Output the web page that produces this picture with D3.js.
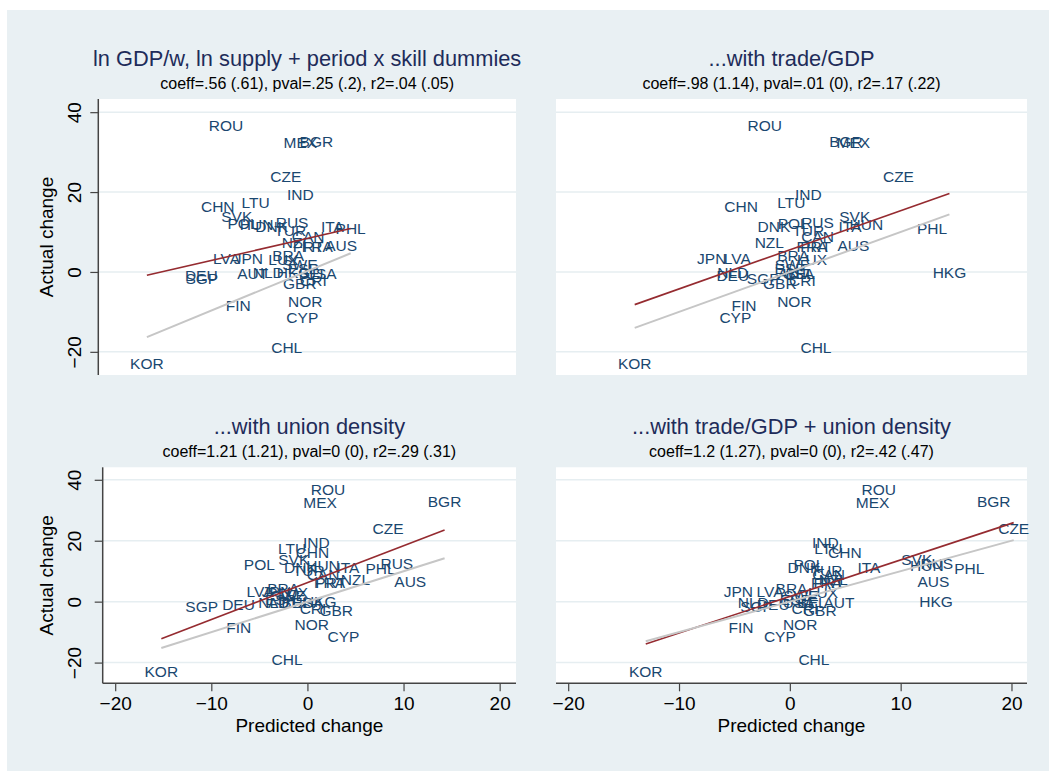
<!DOCTYPE html>
<html>
<head>
<meta charset="utf-8">
<script src="https://cdn.jsdelivr.net/npm/d3@7"></script>
<style>
  body { margin: 0; background: #fff; }
  svg { display: block; font-family: "Liberation Sans", Arial, Helvetica, sans-serif; }
</style>
</head>
<body>
<svg id="chart" width="1049" height="771"></svg>
<script>
// country codes and actual change (same in every panel)
const countries = ["ROU","MEX","BGR","CZE","IND","CHN","LTU","SVK","POL","HUN",
  "DNK","RUS","TUR","ITA","PHL","CAN","NZL","FRA","PRT","AUS",
  "LVA","JPN","BRA","LUX","SWE","DEU","SGP","AUT","NLD","HKG",
  "ESP","BEL","USA","GBR","CRI","FIN","NOR","CYP","CHL","KOR"];
const actual = [36.7, 32.5, 32.8, 23.9, 19.4, 16.3, 17.4, 13.8, 12.2, 12.0,
  11.3, 12.5, 10.3, 11.4, 10.9, 8.8, 7.3, 6.3, 6.4, 6.7,
  3.35, 3.35, 4.2, 3.1, 1.9, -0.8, -1.65, -0.25, -0.2, 0,
  0.8, -0.4, -0.4, -2.75, -2.1, -8.5, -7.35, -11.4, -18.8, -22.8];

// predicted change, one list per model
const predBase = [-8.15, -0.5, 1.15, -2.0, -0.5, -9.0, -5.1, -7.05, -6.4, -5.0,
  -3.45, -1.35, -1.55, 2.8, 4.68, 0.3, -0.9, 1.25, 0.3, 3.7,
  -8.1, -5.85, -1.75, -2.25, -0.55, -10.7, -10.65, -5.4, -3.8, -1.2,
  -0.2, 0.85, 1.6, -0.55, 0.85, -6.9, 0.0, -0.3, -1.9, -16.3];
const predTrade = [-2.27, 5.73, 5.07, 9.8, 1.67, -4.4, 0.14, 5.86, 0.3, 6.9,
  -1.43, 2.5, 1.67, 5.43, 12.83, 2.5, -1.85, 2.0, 2.33, 5.73,
  -4.74, -7.05, 0.3, 2.0, 0.23, -5.15, -2.4, 0.3, -5.15, 14.4,
  0.02, 0.92, 0.77, -0.9, 1.13, -4.13, 0.41, -4.92, 2.36, -14.0];
const predUnion = [2.14, 1.31, 14.27, 8.38, 0.93, 0.52, -1.6, -1.42, -5.0, 1.62,
  -0.73, 9.3, 0.14, 4.22, 7.6, 1.62, 5.0, 2.3, 2.42, 10.7,
  -4.93, -3.22, -2.53, -1.5, -2.0, -7.17, -11.0, -2.5, -3.5, 1.28,
  -2.8, -1.2, 0.0, 3.0, 0.58, -7.14, 0.45, 3.74, -2.12, -15.2];
const predBoth = [8.02, 7.47, 18.4, 20.2, 3.2, 4.97, 3.47, 11.45, 1.72, 12.36,
  1.27, 13.26, 3.3, 7.14, 16.2, 3.5, 3.92, 3.3, 3.53, 12.96,
  -1.78, -4.64, 0.15, 3.0, 1.0, -1.5, -3.0, 4.43, -3.3, 13.2,
  0.5, 2.0, 0.8, 2.71, 1.36, -4.4, 0.93, -0.9, 2.17, -13.0];

const titles = ["ln GDP/w, ln supply + period x skill dummies", "...with trade/GDP",
  "...with union density", "...with trade/GDP + union density"];
const subtitles = ["coeff=.56 (.61), pval=.25 (.2), r2=.04 (.05)",
  "coeff=.98 (1.14), pval=.01 (0), r2=.17 (.22)",
  "coeff=1.21 (1.21), pval=0 (0), r2=.29 (.31)",
  "coeff=1.2 (1.27), pval=0 (0), r2=.42 (.47)"];
// fitted line: slope and intercept
const slopes = [0.56, 0.98, 1.21, 1.2];
const intercepts = [8.28, 5.54, 6.23, 1.7];

const xTicks = [-20, -10, 0, 10, 20];
const yTicks = [-20, 0, 20, 40];

const bg = "#e9f0f3";
const navy = "#1a476f";

const svg = d3.select("#chart");
svg.append("rect").attr("x", 7).attr("y", 10).attr("width", 1042).attr("height", 761).attr("fill", bg);

const panels = [
  { pred: predBase, left: 98.3, right: 516, top: 99, bottom: 375, xd: [-21.3, 21.7], yd: [-25.8, 43.3], yAxis: true, xAxis: false },
  { pred: predTrade, left: 556, right: 1027, top: 99, bottom: 375, xd: [-21.1, 21.4], yd: [-25.8, 43.3], yAxis: false, xAxis: false },
  { pred: predUnion, left: 102.7, right: 516, top: 467.3, bottom: 683.3, xd: [-21.3, 21.7], yd: [-26.8, 44.1], yAxis: true, xAxis: true },
  { pred: predBoth, left: 556, right: 1027, top: 467.3, bottom: 683.3, xd: [-21.1, 21.4], yd: [-26.8, 44.1], yAxis: false, xAxis: true }
];

panels.forEach((p, i) => {
  const x = d3.scaleLinear().domain(p.xd).range([p.left, p.right]);
  const y = d3.scaleLinear().domain(p.yd).range([p.bottom, p.top]);
  const g = svg.append("g");
  const cx = (p.left + p.right) / 2;
  const off = i < 2 ? 0 : 368;

  g.append("text").attr("x", cx).attr("y", 65.5 + off)
    .attr("text-anchor", "middle").attr("font-size", 21.8).attr("fill", "#1e2c5a")
    .text(titles[i]);
  g.append("text").attr("x", cx).attr("y", 89 + off)
    .attr("text-anchor", "middle").attr("font-size", 16).attr("fill", "#000")
    .text(subtitles[i]);

  g.append("rect").attr("x", p.left).attr("y", p.top)
    .attr("width", p.right - p.left).attr("height", p.bottom - p.top).attr("fill", "#fff");

  g.selectAll(".grid").data(yTicks).enter().append("line")
    .attr("x1", p.left).attr("x2", p.right)
    .attr("y1", (d) => y(d)).attr("y2", (d) => y(d))
    .attr("stroke", "#e6eef1").attr("stroke-width", 1.5);

  if (p.yAxis) {
    const ya = g.append("g").attr("transform", "translate(" + p.left + ",0)")
      .call(d3.axisLeft(y).tickValues(yTicks).tickSize(8).tickSizeOuter(0).tickFormat(d3.format("")));
    ya.select(".domain").attr("stroke", "#444").attr("stroke-width", 1.5)
      .attr("d", "M0," + p.top + "V" + p.bottom);
    ya.selectAll(".tick line").attr("stroke", "#444").attr("stroke-width", 1.2);
    ya.selectAll(".tick text")
      .attr("font-size", 19).attr("fill", "#000").attr("font-family", null)
      .attr("x", null).attr("dy", null)
      .attr("text-anchor", "middle")
      .attr("transform", "translate(" + (81 - p.left) + ",0) rotate(-90)");
    g.append("text")
      .attr("transform", "translate(53," + (p.top + p.bottom) / 2 + ") rotate(-90)")
      .attr("text-anchor", "middle").attr("font-size", 19).text("Actual change");
  }

  if (p.xAxis) {
    const xa = g.append("g").attr("transform", "translate(0," + p.bottom + ")")
      .call(d3.axisBottom(x).tickValues(xTicks).tickSize(8).tickSizeOuter(0).tickFormat(d3.format("")));
    xa.select(".domain").attr("stroke", "#444").attr("stroke-width", 1.5)
      .attr("d", "M" + p.left + ",0H" + p.right);
    xa.selectAll(".tick line").attr("stroke", "#444").attr("stroke-width", 1.2);
    xa.selectAll(".tick text")
      .attr("font-size", 19).attr("fill", "#000").attr("font-family", null)
      .attr("dy", null).attr("y", 26.5);
    g.append("text").attr("x", cx).attr("y", 731.5)
      .attr("text-anchor", "middle").attr("font-size", 19).text("Predicted change");
  }

  const pts = countries.map((c, k) => ({ name: c, px: p.pred[k], ay: actual[k] }));

  g.selectAll(".lab").data(pts).enter().append("text")
    .attr("x", (d) => x(d.px)).attr("y", (d) => y(d.ay))
    .attr("dy", "0.36em")
    .attr("text-anchor", "middle").attr("font-size", 15.5).attr("fill", navy)
    .text((d) => d.name);

  const ext = d3.extent(p.pred);

  g.append("line")
    .attr("x1", x(ext[0])).attr("y1", y(intercepts[i] + slopes[i] * ext[0]))
    .attr("x2", x(ext[1])).attr("y2", y(intercepts[i] + slopes[i] * ext[1]))
    .attr("stroke", "#952b30").attr("stroke-width", 1.6);

  // 45 degree line
  g.append("line")
    .attr("x1", x(ext[0])).attr("y1", y(ext[0]))
    .attr("x2", x(ext[1])).attr("y2", y(ext[1]))
    .attr("stroke", "#c6c6c6").attr("stroke-width", 2);
});
</script>
</body>
</html>
